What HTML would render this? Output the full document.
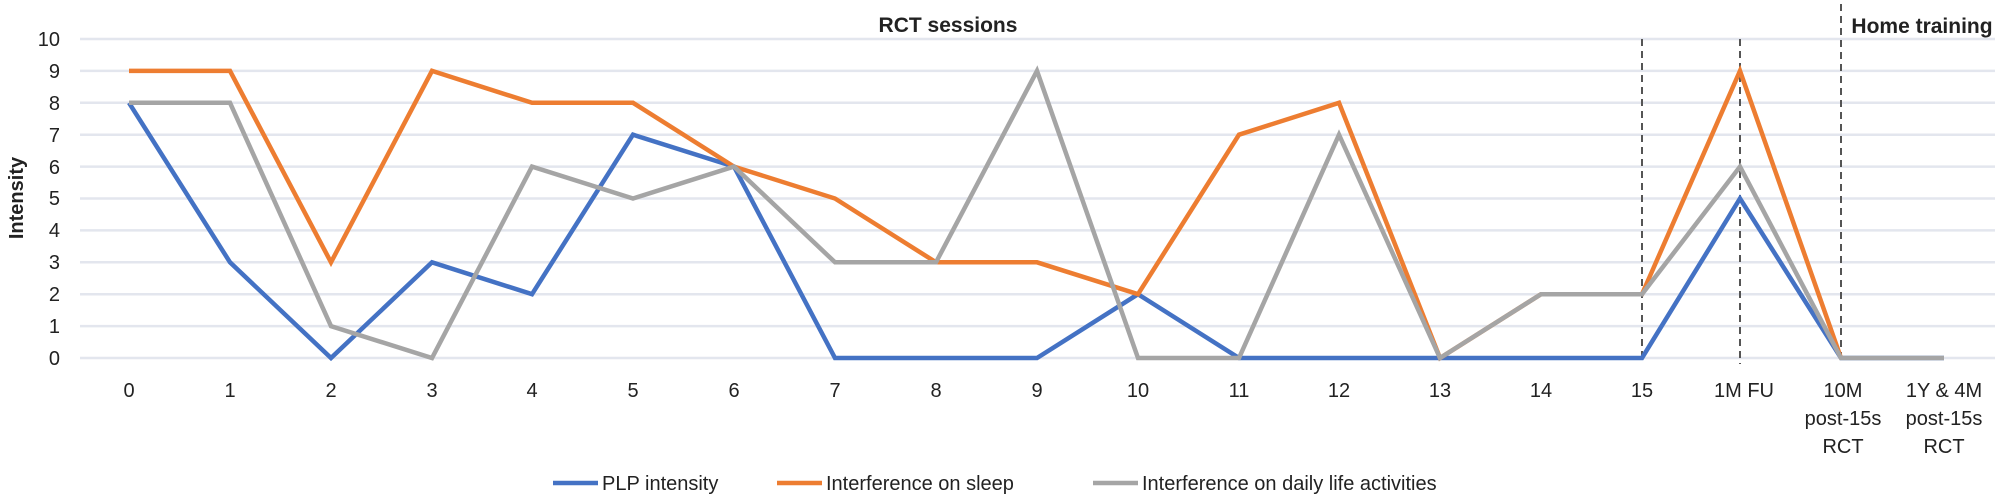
<!DOCTYPE html>
<html><head><meta charset="utf-8"><style>html,body{margin:0;padding:0;background:#fff}svg{display:block}text{font-family:"Liberation Sans",sans-serif;fill:#222}</style></head><body>
<svg width="2000" height="500" viewBox="0 0 2000 500" xmlns="http://www.w3.org/2000/svg">
<g stroke="#e3e6ee" stroke-width="2.5">
<line x1="80" x2="1995" y1="39" y2="39"/><line x1="80" x2="1995" y1="70.9" y2="70.9"/><line x1="80" x2="1995" y1="102.8" y2="102.8"/><line x1="80" x2="1995" y1="134.7" y2="134.7"/><line x1="80" x2="1995" y1="166.6" y2="166.6"/><line x1="80" x2="1995" y1="198.5" y2="198.5"/><line x1="80" x2="1995" y1="230.4" y2="230.4"/><line x1="80" x2="1995" y1="262.3" y2="262.3"/><line x1="80" x2="1995" y1="294.2" y2="294.2"/><line x1="80" x2="1995" y1="326.1" y2="326.1"/><line x1="80" x2="1995" y1="358" y2="358"/>
</g>
<g font-size="20" text-anchor="end">
<text x="60" y="46">10</text><text x="60" y="78">9</text><text x="60" y="110">8</text><text x="60" y="142">7</text><text x="60" y="174">6</text><text x="60" y="205">5</text><text x="60" y="237">4</text><text x="60" y="269">3</text><text x="60" y="301">2</text><text x="60" y="333">1</text><text x="60" y="365">0</text>
</g>
<text transform="translate(23,198) rotate(-90)" font-size="20" font-weight="bold" text-anchor="middle">Intensity</text>
<g stroke="#555" stroke-width="2" stroke-dasharray="7,5">
<line x1="1642" x2="1642" y1="39" y2="358"/><line x1="1740" x2="1740" y1="39" y2="364"/><line x1="1841" x2="1841" y1="4" y2="358"/>
</g>
<text x="948" y="32" font-size="21" font-weight="bold" text-anchor="middle">RCT sessions</text>
<text x="1922" y="33" font-size="21" font-weight="bold" text-anchor="middle">Home training</text>
<g fill="none" stroke-width="4.5" stroke-linejoin="miter">
<polyline stroke="#4472C4" points="129,102.8 230,262.3 331,358 432,262.3 532,294.2 633,134.7 734,166.6 835,358 936,358 1037,358 1138,294.2 1239,358 1339,358 1440,358 1541,358 1642,358 1740,198.5 1841,358 1944,358"/>
<polyline stroke="#ED7D31" points="129,70.9 230,70.9 331,262.3 432,70.9 532,102.8 633,102.8 734,166.6 835,198.5 936,262.3 1037,262.3 1138,294.2 1239,134.7 1339,102.8 1440,358 1541,294.2 1642,294.2 1740,70.9 1841,358"/>
<polyline stroke="#A5A5A5" points="129,102.8 230,102.8 331,326.1 432,358 532,166.6 633,198.5 734,166.6 835,262.3 936,262.3 1037,70.9 1138,358 1239,358 1339,134.7 1440,358 1541,294.2 1642,294.2 1740,166.6 1841,358 1944,358"/>
</g>
<g font-size="20" text-anchor="middle">
<text x="129" y="397">0</text><text x="230" y="397">1</text><text x="331" y="397">2</text><text x="432" y="397">3</text><text x="532" y="397">4</text><text x="633" y="397">5</text><text x="734" y="397">6</text><text x="835" y="397">7</text><text x="936" y="397">8</text><text x="1037" y="397">9</text><text x="1138" y="397">10</text><text x="1239" y="397">11</text><text x="1339" y="397">12</text><text x="1440" y="397">13</text><text x="1541" y="397">14</text><text x="1642" y="397">15</text><text x="1744" y="397">1M FU</text>
<text x="1843" y="397">10M</text><text x="1843" y="425">post-15s</text><text x="1843" y="453">RCT</text>
<text x="1944" y="397">1Y &amp; 4M</text><text x="1944" y="425">post-15s</text><text x="1944" y="453">RCT</text>
</g>
<g stroke-width="4.5">
<line x1="553" x2="598" y1="483" y2="483" stroke="#4472C4"/>
<line x1="777" x2="822" y1="483" y2="483" stroke="#ED7D31"/>
<line x1="1093" x2="1138" y1="483" y2="483" stroke="#A5A5A5"/>
</g>
<g font-size="20">
<text x="602" y="490">PLP intensity</text>
<text x="826" y="490">Interference on sleep</text>
<text x="1142" y="490">Interference on daily life activities</text>
</g>
</svg>
</body></html>
